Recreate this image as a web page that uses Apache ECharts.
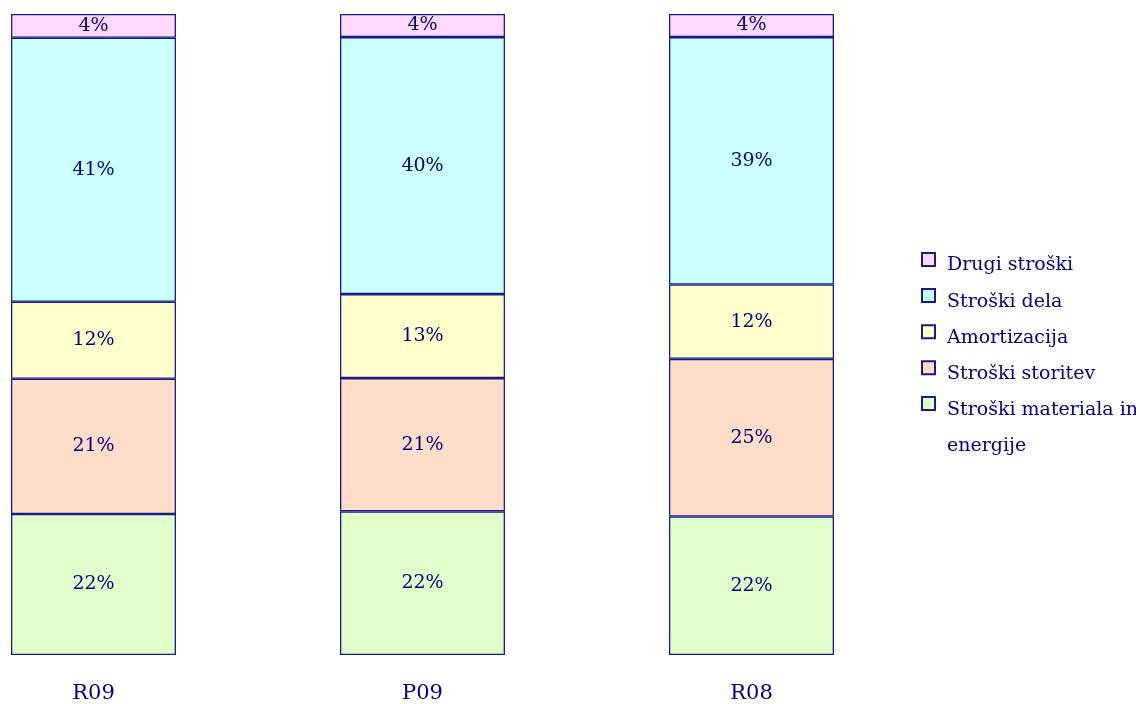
<!DOCTYPE html>
<html>
<head>
<meta charset="utf-8">
<script src="https://cdn.jsdelivr.net/npm/echarts@6/dist/echarts.min.js"></script>
<style>
html,body{margin:0;padding:0;background:#fff;}
#chart{width:1136px;height:704px;}
</style>
</head>
<body>
<div id="chart"></div>
<script>
const categories = ['R09', 'P09', 'R08'];
const seriesNames = ['Stroški materiala in energije', 'Stroški storitev', 'Amortizacija', 'Stroški dela', 'Drugi stroški'];
const materialaEnergija = [22.0, 22.4, 21.6];
const storitve = [21.1, 20.8, 24.6];
const amortizacija = [12.0, 13.1, 11.6];
const dela = [41.2, 40.1, 38.6];
const drugi = [3.7, 3.6, 3.6];
const colors = ['#E1FFCB', '#FFDEC9', '#FFFFCC', '#CCFFFF', '#FFD9FF'];

const allValues = [materialaEnergija, storitve, amortizacija, dela, drugi];
const navy = '#000080';
const font = 'DejaVu Serif';

const series = seriesNames.map((name, i) => ({
  name: name,
  type: 'bar',
  stack: 'total',
  barWidth: 165,
  clip: false,
  data: allValues[i],
  itemStyle: { color: colors[i], borderColor: '#1a1a8a', borderWidth: 1.3 },
  label: {
    show: true,
    position: 'inside',
    color: navy,
    fontFamily: font,
    fontSize: 19,
    formatter: p => Math.round(p.value) + '%'
  }
}));

const chart = echarts.init(document.getElementById('chart'));
chart.setOption({
  animation: false,
  backgroundColor: '#fff',
  grid: { left: 93.5, top: 14, width: 658, height: 641 },
  xAxis: {
    type: 'category',
    data: categories,
    boundaryGap: false,
    axisLine: { show: false },
    axisTick: { show: false },
    splitLine: { show: false },
    axisLabel: { color: navy, fontFamily: font, fontSize: 21, margin: 28 }
  },
  yAxis: {
    type: 'value',
    min: 0,
    max: 100,
    show: false
  },
  legend: [
    {
      orient: 'vertical',
      left: 916,
      top: 239,
      padding: 5,
      itemWidth: 13,
      itemHeight: 13,
      itemGap: 5.1,
      icon: 'rect',
      data: ['Drugi stroški', 'Stroški dela', 'Amortizacija', 'Stroški storitev'],
      formatter: n => '{a|' + n + '}',
      textStyle: {
        color: navy, fontFamily: font, fontSize: 19,
        rich: { a: { color: navy, fontFamily: font, fontSize: 19, lineHeight: 24, padding: [12, 0, 0, 7] } }
      }
    },
    {
      orient: 'vertical',
      left: 916,
      top: 346.5,
      padding: 5,
      itemWidth: 13,
      itemHeight: 13,
      icon: 'rect',
      data: ['Stroški materiala in energije'],
      formatter: n => {
        const k = n.indexOf(' in ') + 3;
        return '{a|' + n.slice(0, k) + '}\n{a|' + n.slice(k + 1) + '}';
      },
      textStyle: {
        color: navy, fontFamily: font, fontSize: 19,
        rich: {
          a: { color: navy, fontFamily: font, fontSize: 19, lineHeight: 36, padding: [49.2, 0, 0, 7] }
        }
      }
    }
  ],
  series: series
});
</script>
</body>
</html>
